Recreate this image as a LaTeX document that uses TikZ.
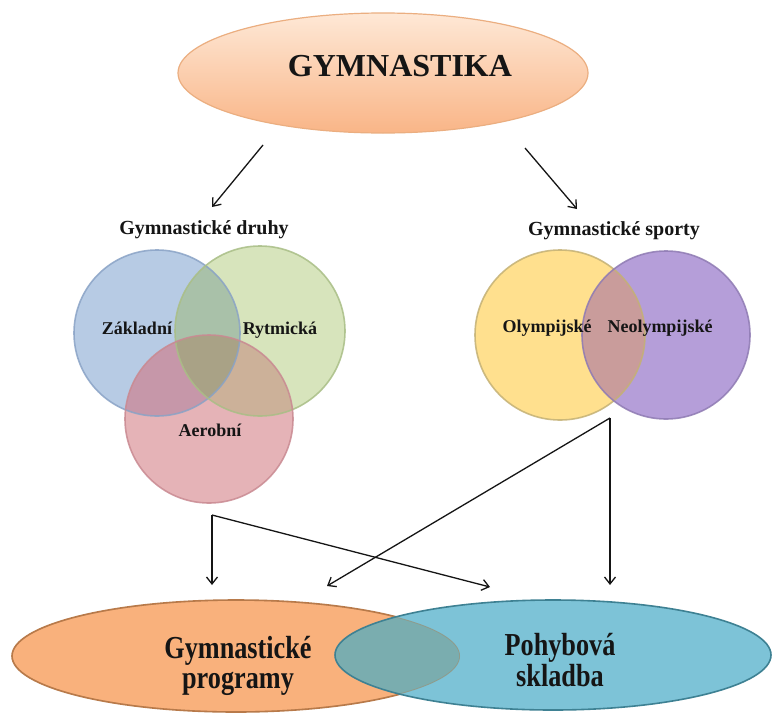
\documentclass[tikz,border=0pt]{standalone}
\usepackage{fontspec}
\setmainfont{Liberation Serif}
\usetikzlibrary{arrows.meta,shapes.geometric}
\definecolor{topA}{HTML}{FEE8D6}
\definecolor{topB}{HTML}{F9B587}
\definecolor{topBorder}{HTML}{EBAE80}
\definecolor{cB}{HTML}{B7CBE4}
\definecolor{cG}{HTML}{D7E4BC}
\definecolor{cR}{HTML}{E5B3B7}
\definecolor{cBG}{HTML}{A9C1A9}
\definecolor{cBR}{HTML}{C697A9}
\definecolor{cGR}{HTML}{CCB199}
\definecolor{cBGR}{HTML}{A9A286}
\definecolor{bB}{HTML}{8AA3C6}
\definecolor{bG}{HTML}{A9BE86}
\definecolor{bR}{HTML}{C98A92}
\definecolor{cY}{HTML}{FFE08E}
\definecolor{cP}{HTML}{B59ED9}
\definecolor{cYP}{HTML}{C99C9B}
\definecolor{bY}{HTML}{C4B175}
\definecolor{bP}{HTML}{8F7BB3}
\definecolor{cO}{HTML}{F9B17C}
\definecolor{bO}{HTML}{B87A4A}
\definecolor{cT}{HTML}{7DC3D7}
\definecolor{bT}{HTML}{3E8193}
\definecolor{cOT}{HTML}{7AADAF}
\definecolor{ink}{HTML}{151515}
\tikzset{
  arr/.style={draw=ink, line width=1.3pt, -{Straight Barb[length=7pt,width=11pt,line width=1.3pt]}},
  plain/.style={draw=ink, line width=1.3pt},
  lbl/.style={font=\fontsize{20}{24}\selectfont\bfseries, text=ink, inner sep=0pt},
  vlbl/.style={font=\fontsize{18}{22}\selectfont\bfseries, text=ink, inner sep=0pt},
  big/.style={font=\fontsize{32}{30}\selectfont\bfseries, text=ink, inner sep=0pt},
  vborder/.style={line width=1.6pt, draw opacity=0.85}
}
\begin{document}
\begin{tikzpicture}[x=1pt,y=-1pt]
\useasboundingbox (0,0) rectangle (773,715);
\fill[white] (0,0) rectangle (773,715);

% top ellipse
\node[ellipse, minimum width=410pt, minimum height=120pt, inner sep=0pt,
      top color=topA, bottom color=topB, draw=topBorder, line width=1.2pt] (gym) at (383,73) {};
\node[font=\fontsize{32}{36}\selectfont\bfseries, text=ink, inner sep=0pt] (gymt) at (400,66) {GYMNASTIKA};

% top arrows
\coordinate (a1s) at (263,145);
\coordinate (a1e) at (212,207);
\coordinate (a2s) at (525,148);
\coordinate (a2e) at (577,209);
\draw[arr] (a1s) -- (a1e);
\draw[arr] (a2s) -- (a2e);

% headings
\node[lbl] (druhy) at (204,230) {Gymnastické druhy};
\node[lbl] (sporty) at (614,231) {Gymnastické sporty};

% left Venn
\fill[cB] (157,333) circle[radius=83];
\fill[cG] (260,331) circle[radius=85];
\fill[cR] (209,419) circle[radius=84];
\begin{scope}\clip (157,333) circle[radius=83]; \fill[cBG] (260,331) circle[radius=85]; \end{scope}
\begin{scope}\clip (157,333) circle[radius=83]; \fill[cBR] (209,419) circle[radius=84]; \end{scope}
\begin{scope}\clip (260,331) circle[radius=85]; \fill[cGR] (209,419) circle[radius=84]; \end{scope}
\begin{scope}\clip (157,333) circle[radius=83]; \clip (260,331) circle[radius=85]; \fill[cBGR] (209,419) circle[radius=84]; \end{scope}
\draw[vborder, bB] (157,333) circle[radius=83];
\draw[vborder, bG] (260,331) circle[radius=85];
\draw[vborder, bR] (209,419) circle[radius=84];
\node[vlbl] (zakl) at (137,328) {Základní};
\node[vlbl] (rytm) at (280,330) {Rytmická};
\node[vlbl] (aero) at (210,430) {Aerobní};

% right Venn
\fill[cY] (560,335) circle[radius=85];
\fill[cP] (666,335) circle[radius=84];
\begin{scope}\clip (560,335) circle[radius=85]; \fill[cYP] (666,335) circle[radius=84]; \end{scope}
\draw[vborder, bY] (560,335) circle[radius=85];
\draw[vborder, bP] (666,335) circle[radius=84];
\node[vlbl] (olym) at (547,328) {Olympijské};
\node[vlbl] (neol) at (660,328) {Neolympijské};

% lower connectors
\coordinate (c1) at (212,515);
\coordinate (c1a) at (212,585);
\coordinate (c1b) at (490,587);
\coordinate (c2) at (610,418);
\coordinate (c2a) at (610,585);
\coordinate (c2b) at (327,586);
\draw[arr] (c1) -- (c1a);
\draw[arr] (c1) -- (c1b);
\draw[arr] (c2) -- (c2a);
\draw[arr] (c2) -- (c2b);

% bottom ellipses
\fill[cO] (236,656) ellipse[x radius=224, y radius=56];
\draw[bO, line width=1.6pt] (236,656) ellipse[x radius=224, y radius=56];
\fill[cT] (553,655) ellipse[x radius=218, y radius=55];
\begin{scope}
  \clip (236,656) ellipse[x radius=224, y radius=56];
  \fill[cOT] (553,655) ellipse[x radius=218, y radius=55];
  \draw[bO, line width=1.6pt, draw opacity=0.35] (236,656) ellipse[x radius=224, y radius=56];
\end{scope}
\draw[bT, line width=1.6pt] (553,655) ellipse[x radius=218, y radius=55];
\node[big] (prog) at (238,667) {\scalebox{0.82}[1]{\begin{tabular}{@{}c@{}}Gymnastické\\programy\end{tabular}}};
\node[big] (sklad) at (560,664) {\scalebox{0.82}[1]{\begin{tabular}{@{}c@{}}Pohybová\\skladba\end{tabular}}};
\end{tikzpicture}
\end{document}
